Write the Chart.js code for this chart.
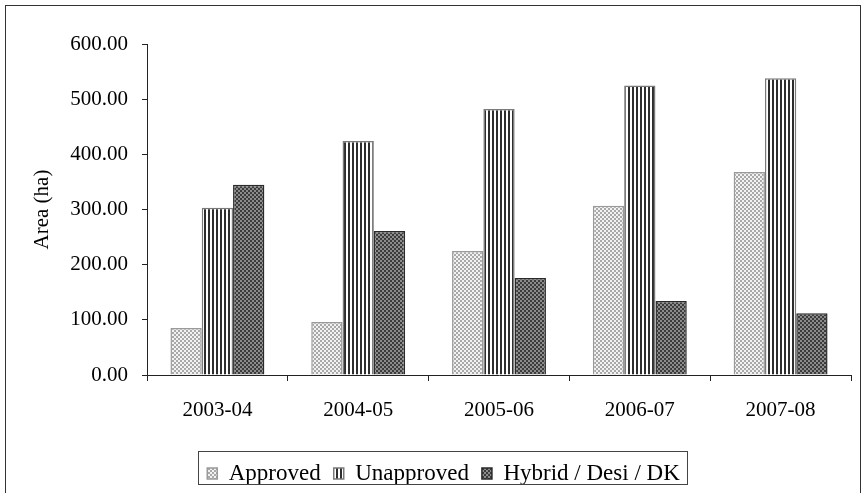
<!DOCTYPE html>
<html lang="en">
<head>
  <meta charset="UTF-8" />
  <title>Area (ha) by season</title>
  <script src="https://cdn.jsdelivr.net/npm/chart.js"></script>
  <style>
    html, body {
      margin: 0;
      padding: 0;
      background: #fff;
    }
    canvas {
      display: block;
    }
  </style>
</head>
<body>
  <canvas id="areaChart" width="864" height="493"></canvas>

  <script>
    // values
    const seasons = ['2003-04', '2004-05', '2005-06', '2006-07', '2007-08'];
    const approved = [85, 96, 225, 307, 368];
    const unapproved = [303, 424, 482, 525, 538];
    const hybrid = [345, 261, 176, 134, 112];
    const seriesNames = ['Approved', 'Unapproved', 'Hybrid / Desi / DK'];
    const yMin = 0, yMax = 600, yStep = 100;

    const serif = "'Liberation Serif', 'Times New Roman', serif";

    // little fill patterns, like the old office chart
    function makePattern(w, h, paint) {
      const c = document.createElement('canvas');
      c.width = w;
      c.height = h;
      const g = c.getContext('2d');
      paint(g);
      return g.createPattern(c, 'repeat');
    }

    const checkLight = makePattern(4, 4, g => {
      g.fillStyle = '#f2f2f2';
      g.fillRect(0, 0, 4, 4);
      g.fillStyle = '#a9a9a9';
      g.fillRect(0, 0, 2, 2);
      g.fillRect(2, 2, 2, 2);
    });

    const stripes = makePattern(4, 4, g => {
      g.fillStyle = '#ffffff';
      g.fillRect(0, 0, 4, 4);
      g.fillStyle = '#2e2e2e';
      g.fillRect(0, 0, 2, 4);
    });

    const checkDark = makePattern(4, 4, g => {
      g.fillStyle = '#3c3c3c';
      g.fillRect(0, 0, 4, 4);
      g.fillStyle = '#8c8c8c';
      g.fillRect(0, 0, 2, 2);
      g.fillRect(2, 2, 2, 2);
    });

    const padLeft = 26;

    // outer frame + box round the legend
    const framePlugin = {
      id: 'frame',
      afterLayout(chart) {
        const lg = chart.legend;
        lg.left += 5;
        lg.right += 5;
        lg.top += 2;
        lg.bottom += 2;
      },
      afterDraw(chart) {
        const ctx = chart.ctx;
        ctx.save();
        ctx.strokeStyle = '#333';
        ctx.lineWidth = 1;
        ctx.strokeRect(5.5, 5.5, 855, 500);

        const boxes = chart.legend.legendHitBoxes;
        if (boxes && boxes.length) {
          const first = boxes[0];
          const last = boxes[boxes.length - 1];
          const x0 = Math.round(first.left - 9) + 0.5;
          const x1 = Math.round(last.left + last.width + 7) + 0.5;
          const y0 = Math.round(chart.legend.top + 2) + 0.5;
          const y1 = Math.round(chart.legend.top + 35) + 0.5;
          ctx.strokeStyle = '#444';
          ctx.strokeRect(x0, y0, x1 - x0, y1 - y0);
        }
        ctx.restore();
      }
    };

    const ctx = document.getElementById('areaChart').getContext('2d');
    new Chart(ctx, {
      type: 'bar',
      data: {
        labels: seasons,
        datasets: [
          {
            label: seriesNames[0],
            data: approved,
            backgroundColor: checkLight,
            borderColor: '#9a9a9a',
            borderWidth: 1.5
          },
          {
            label: seriesNames[1],
            data: unapproved,
            backgroundColor: stripes,
            borderColor: '#7a7a7a',
            borderWidth: 1.5
          },
          {
            label: seriesNames[2],
            data: hybrid,
            backgroundColor: checkDark,
            borderColor: '#2a2a2a',
            borderWidth: 1.5
          }
        ]
      },
      options: {
        responsive: false,
        animation: false,
        events: [],
        layout: {
          padding: { left: padLeft, right: 13, top: 44, bottom: 0 }
        },
        datasets: {
          bar: {
            categoryPercentage: 0.667,
            barPercentage: 1.0
          }
        },
        plugins: {
          tooltip: { enabled: false },
          legend: {
            position: 'bottom',
            labels: {
              boxWidth: 10,
              boxHeight: 11,
              padding: 13,
              color: '#000',
              font: { family: serif, size: 23 }
            }
          }
        },
        scales: {
          x: {
            grid: {
              display: true,
              drawOnChartArea: false,
              drawTicks: true,
              tickLength: 6,
              color: '#222',
              offset: true
            },
            border: { display: true, color: '#222', width: 1 },
            ticks: {
              color: '#000',
              padding: 17,
              maxRotation: 0,
              font: { family: serif, size: 21 }
            },
            afterFit(scale) {
              scale.height = 72;
            }
          },
          y: {
            min: yMin,
            max: yMax,
            grid: {
              display: true,
              drawOnChartArea: false,
              drawTicks: true,
              tickLength: 5,
              color: '#222'
            },
            border: { display: true, color: '#222', width: 1 },
            ticks: {
              stepSize: yStep,
              color: '#000',
              padding: 14,
              font: { family: serif, size: 21 },
              callback: v => v.toFixed(2)
            },
            title: {
              display: true,
              text: 'Area (ha)',
              color: '#000',
              font: { family: serif, size: 21 },
              padding: { top: 4, bottom: 4 }
            },
            afterFit(scale) {
              scale.width = 147 - padLeft;
            }
          }
        }
      },
      plugins: [framePlugin]
    });
  </script>
</body>
</html>
